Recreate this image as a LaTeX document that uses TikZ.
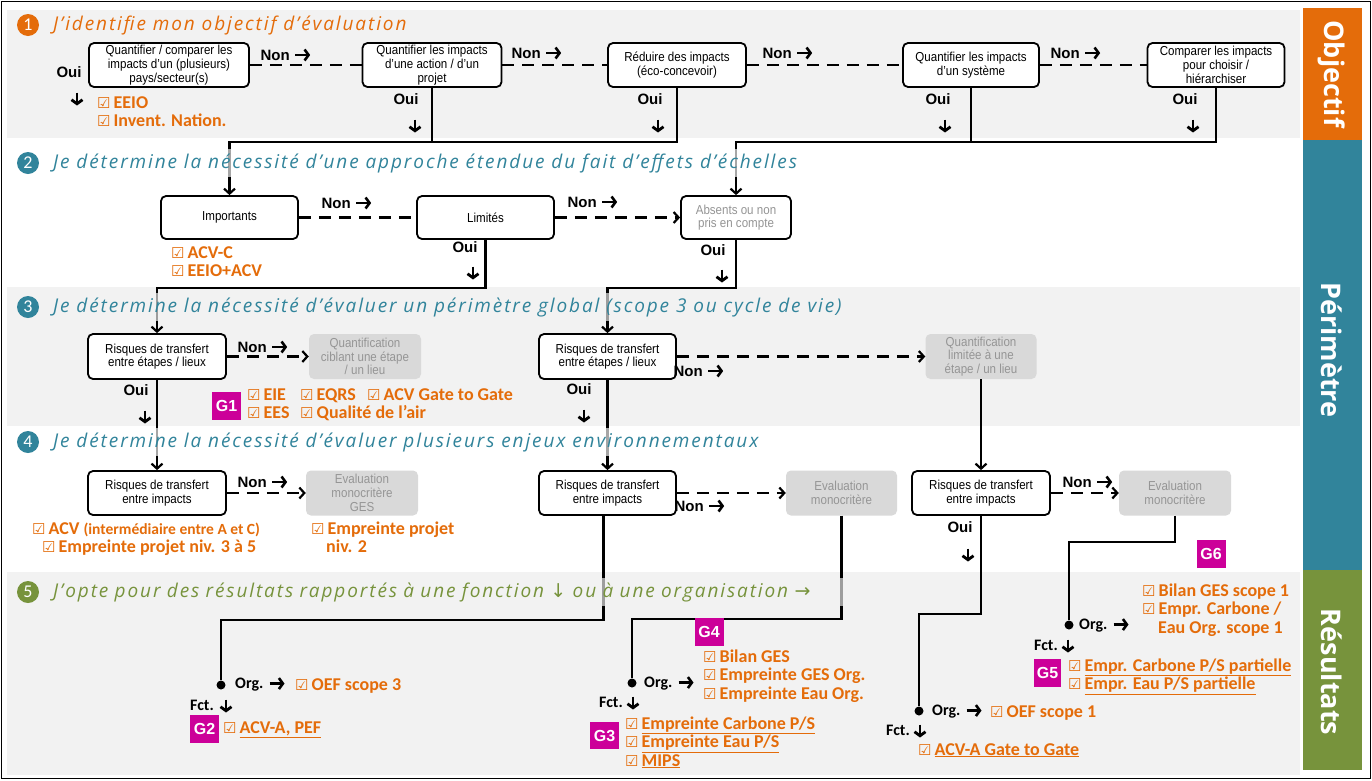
\documentclass[tikz,border=0pt]{standalone}
\usepackage{fontspec}
\setmainfont{Liberation Sans}
\newfontfamily\boxfont[FakeStretch=0.89]{Liberation Sans}
\newfontfamily\calfont{Carlito}
\newfontfamily\dejafont{DejaVu Sans}
\newfontfamily\handfont[LetterSpace=10]{Open Sans}
\newfontfamily\barfont{Open Sans}
\usetikzlibrary{arrows.meta,positioning}
\definecolor{orangeC}{HTML}{E46C0A}
\definecolor{tealC}{HTML}{31849B}
\definecolor{greenC}{HTML}{77933C}
\definecolor{magC}{HTML}{CC0099}
\definecolor{secbg}{HTML}{F2F2F2}
\definecolor{boxgray}{HTML}{D9D9D9}
\definecolor{txtgray}{HTML}{959595}
\newcommand{\ck}{{\dejafont\fontsize{15}{15}\selectfont ☑}\hspace{3pt}}
\newcommand{\rarr}{\tikz[baseline=-5pt]\draw[line width=2.6pt,-{Straight Barb[length=4pt,width=11pt]}] (0pt,0pt) -- (15pt,0pt);}
\newcommand{\dnarr}{\tikz[baseline=-5pt]\draw[line width=2.8pt,-{Straight Barb[length=4pt,width=11pt]}] (0pt,6pt) -- (0pt,-7pt);}

\begin{document}
\begin{tikzpicture}[x=1pt, y=-1pt,
    decision/.style={draw, line width=1.8pt, rounded corners=5pt, fill=white,
      minimum width=137pt, minimum height=44pt, inner sep=1pt, align=center,
      font=\boxfont\fontsize{13}{13.7}\selectfont},
    outcome/.style={fill=boxgray, text=txtgray, rounded corners=5pt,
      minimum width=112pt, minimum height=45pt, inner sep=1pt, align=center,
      font=\boxfont\fontsize{13}{13.7}\selectfont},
    conn/.style={line width=2.2pt},
    nonline/.style={line width=2.2pt, dash pattern=on 12pt off 8pt},
    arr/.style={-{Straight Barb[length=5pt,width=11pt]}},
    lbl/.style={font=\bfseries\fontsize{15}{15}\selectfont, inner sep=0pt},
    orgfct/.style={font=\calfont\bfseries\fontsize{16}{16}\selectfont, inner sep=0pt},
    liste/.style={text=orangeC, align=left, inner sep=0pt, anchor=base west,
      font=\calfont\bfseries\fontsize{18}{18.5}\selectfont},
    gtag/.style={fill=magC, text=white, minimum width=29pt, minimum height=28pt,
      inner sep=0pt, font=\bfseries\fontsize{16}{16}\selectfont},
    jdot/.style={circle, fill, minimum size=9pt, inner sep=0pt},
    titre/.style={anchor=west, fill opacity=0.65, text opacity=1, inner xsep=18pt,
      inner ysep=4pt, font=\handfont\itshape\fontsize{19}{19}\selectfont},
    num/.style={circle, minimum size=22pt, inner sep=0pt, text=white,
      font=\calfont\fontsize{18}{18}\selectfont},
    bartxt/.style={rotate=-90, text=white, font=\barfont\bfseries\fontsize{27}{27}\selectfont},
  ]
  \useasboundingbox (0,0) rectangle (1372,780);
  % fond et bandeaux
  \fill[white] (0,0) rectangle (1372,780);
  \fill[secbg] (7,10) rectangle (1300,138);
  \fill[secbg] (7,287) rectangle (1300,426);
  \fill[secbg] (7,572) rectangle (1300,775);
  \draw[line width=1.6pt] (1.5,1.5) rectangle (1370.5,778.5);
  \fill[orangeC] (1303,8) rectangle (1362,140);
  \fill[tealC] (1303,140) rectangle (1362,570);
  \fill[greenC] (1303,570) rectangle (1362,770);
  \node[bartxt] (bobj) at (1332,74) {Objectif};
  \node[bartxt] (bper) at (1332,350) {Périmètre};
  \node[bartxt] (bres) at (1332,672) {Résultats};

  % etape 1
  \node[decision, minimum width=160pt] (q1) at (169,65) {Quantifier / comparer les\\impacts d’un (plusieurs)\\pays/secteur(s)};
  \node[decision, minimum width=139pt] (q2) at (432,65) {Quantifier les impacts\\d’une action / d’un\\projet};
  \node[decision, minimum width=138pt] (q3) at (677,65) {Réduire des impacts\\(éco-concevoir)};
  \node[decision, minimum width=136pt] (q4) at (971,65) {Quantifier les impacts\\d’un système};
  \node[decision] (q5) at (1216,65) {Comparer les impacts\\pour choisir /\\hiérarchiser};
  \draw[nonline] (q1.east) -- (q2.west);
  \draw[nonline] (q2.east) -- (q3.west);
  \draw[nonline] (q3.east) -- (q4.west);
  \draw[nonline] (q4.east) -- (q5.west);

  % etape 2
  \node[decision, minimum height=43pt] (imp) at (229.5,217.5) {Importants};
  \node[decision, minimum height=43pt] (lim) at (485.5,217.5) {Limités};
  \node[decision, minimum height=43pt, minimum width=110pt, text=txtgray] (abs) at (736,217.5) {Absents ou non\\pris en compte};
  \draw[conn] (q2.south) -- ++(0,54);
  \draw[conn,arr] (q3.south) -- ++(0,54) -| (imp.north);
  \draw[conn] (q4.south) -- ++(0,54);
  \draw[conn,arr] (q5.south) -- ++(0,54) -| (abs.north);
  \draw[nonline] (imp.east) -- (lim.west);
  \draw[nonline,arr] (lim.east) -- (abs.west);

  % etape 3
  \node[decision, minimum height=45pt, minimum width=138pt] (r3a) at (157,356.5) {Risques de transfert\\entre étapes / lieux};
  \node[outcome] (g3a) at (365,356.5) {Quantification\\ciblant une étape\\/ un lieu};
  \node[decision, minimum height=45pt] (r3b) at (607.5,356.5) {Risques de transfert\\entre étapes / lieux};
  \node[outcome, minimum width=111pt] (g3b) at (981,356.5) {Quantification\\limitée à une\\étape / un lieu};
  \draw[conn,arr] (lim.south) -- ++(0,48) -| (r3a.north);
  \draw[conn,arr] (abs.south) -- ++(0,48) -| (r3b.north);
  \draw[nonline,arr] (r3a.east) -- (g3a.west);
  \draw[nonline,arr] (r3b.east) -- (g3b.west);

  % etape 4
  \node[decision, minimum width=138pt] (r4a) at (157,493) {Risques de transfert\\entre impacts};
  \node[outcome] (g4a) at (362,493) {Evaluation\\monocritère\\GES};
  \node[decision] (r4b) at (607.5,493) {Risques de transfert\\entre impacts};
  \node[outcome, minimum width=111pt] (g4b) at (841.5,493) {Evaluation\\monocritère};
  \node[decision, minimum width=138pt] (r4c) at (981,493) {Risques de transfert\\entre impacts};
  \node[outcome] (g4c) at (1175,493) {Evaluation\\monocritère};
  \draw[conn,arr] (r3a.south) -- (r4a.north);
  \draw[conn,arr] (r3b.south) -- (r4b.north);
  \draw[conn,arr] (g3b.south) -- (r4c.north);
  \draw[nonline,arr] (r4a.east) -- (g4a.west);
  \draw[nonline,arr] (r4b.east) -- (g4b.west);
  \draw[nonline,arr] (r4c.east) -- (g4c.west);

  % etape 5
  \node[jdot] (d2) at (221,685) {};
  \node[jdot] (d3) at (632,683) {};
  \node[jdot] (d4) at (919,711) {};
  \node[jdot] (d5) at (1069,625) {};
  \draw[conn] ([xshift=-4pt]r4b.south) -- ++(0,104) -| (d2);
  \draw[conn] (g4b.south) -- ++(0,103) -| (d3);
  \draw[conn] (r4c.south) -- ++(0,98) -| (d4);
  \draw[conn] (g4c.south) -- ++(0,26) -| (d5);

  % titres
  \node[titre, text=orangeC, fill=secbg] (t1) at (35,25) {J’identifie mon objectif d’évaluation};
  \node[titre, text=tealC, fill=white] (t2) at (35,163) {Je détermine la nécessité d’une approche étendue du fait d’effets d’échelles};
  \node[titre, text=tealC, fill=secbg] (t3) at (35,307) {Je détermine la nécessité d’évaluer un périmètre global (scope 3 ou cycle de vie)};
  \node[titre, text=tealC, fill=white] (t4) at (35,442) {Je détermine la nécessité d’évaluer plusieurs enjeux environnementaux};
  \node[titre, text=greenC, fill=secbg, text width=800pt, align=left] (t5) at (35,592) {J’opte pour des résultats rapportés à une fonction {\dejafont ↓} ou à une organisation {\dejafont →}};
  \node[num, fill=orangeC] (n1) at (28,25) {1};
  \node[num, fill=tealC] (n2) at (28,163) {2};
  \node[num, fill=tealC] (n3) at (28,307) {3};
  \node[num, fill=tealC] (n4) at (28,442) {4};
  \node[num, fill=greenC] (n5) at (28,592) {5};

  % Non / Oui
  \node[lbl] (non1) at (286,55) {Non \rarr};
  \node[lbl] (non2) at (537,53) {Non \rarr};
  \node[lbl] (non3) at (788,53) {Non \rarr};
  \node[lbl] (non4) at (1076,53) {Non \rarr};
  \node[lbl] (non5) at (347,203) {Non \rarr};
  \node[lbl] (non6) at (593,202) {Non \rarr};
  \node[lbl] (non7) at (263,347) {Non \rarr};
  \node[lbl] (non8) at (699,371) {Non \rarr};
  \node[lbl] (non9) at (263,482) {Non \rarr};
  \node[lbl] (non10) at (700,506) {Non \rarr};
  \node[lbl] (non11) at (1088,482) {Non \rarr};
  \node[lbl] (oui1) at (69,72) {Oui};
  \node[lbl] (dn1) at (77,99) {\dnarr};
  \node[lbl] (oui2) at (406,99) {Oui};
  \node[lbl] (dn2) at (415,126) {\dnarr};
  \node[lbl] (oui3) at (650,99) {Oui};
  \node[lbl] (dn3) at (658,126) {\dnarr};
  \node[lbl] (oui4) at (938,99) {Oui};
  \node[lbl] (dn4) at (945,126) {\dnarr};
  \node[lbl] (oui5) at (1185,99) {Oui};
  \node[lbl] (dn5) at (1193,126) {\dnarr};
  \node[lbl] (oui6) at (465,247) {Oui};
  \node[lbl] (dn6) at (473,273) {\dnarr};
  \node[lbl] (oui7) at (713,250) {Oui};
  \node[lbl] (dn7) at (722,276) {\dnarr};
  \node[lbl] (oui8) at (136,390) {Oui};
  \node[lbl] (dn8) at (145,417) {\dnarr};
  \node[lbl] (oui9) at (579,389) {Oui};
  \node[lbl] (dn9) at (584,416) {\dnarr};
  \node[lbl] (oui10) at (960,527) {Oui};
  \node[lbl] (dn10) at (968,555) {\dnarr};

  % methodes (ancre = ligne de base de la derniere ligne)
  \node[liste] (m1) at (97,126.5) {\ck EEIO\\\ck Invent. Nation.};
  \node[liste] (m2) at (171,276.5) {\ck ACV-C\\\ck EEIO+ACV};
  \node[gtag] (g1) at (226.5,406) {G1};
  \node[liste] (m3) at (247,418.5) {\makebox[53pt][l]{\ck EIE}\makebox[67pt][l]{\ck EQRS}\ck ACV Gate to Gate\\\makebox[53pt][l]{\ck EES}\ck Qualité de l’air};
  \node[liste] (m4) at (32,552.5) {\ck ACV {\fontsize{15.5}{15}\selectfont (intermédiaire entre A et C)}\\\hspace*{10pt}\ck Empreinte projet niv. 3 à 5};
  \node[liste] (m5) at (311,552.5) {\ck Empreinte projet\\\hspace*{15pt}niv. 2};

  % branche G2
  \node[orgfct, anchor=west] (o2) at (235,684) {Org. \rarr};
  \node[liste] (m6) at (295,690) {\ck OEF scope 3};
  \node[orgfct, anchor=east] (f2) at (214,705) {Fct.};
  \node[orgfct] (fa2) at (226,706) {\dnarr};
  \node[gtag] (g2) at (204.5,728.5) {G2};
  \node[liste] (m7) at (223,733) {\ck \underline{ACV-A, PEF}};

  % branche G3 / G4
  \node[orgfct, anchor=west] (o3) at (644,683) {Org. \rarr};
  \node[gtag] (g4) at (709,631.5) {G4};
  \node[liste] (m8) at (703,699) {\ck Bilan GES\\\ck Empreinte GES Org.\\\ck Empreinte Eau Org.};
  \node[orgfct, anchor=east] (f3) at (623,702) {Fct.};
  \node[orgfct] (fa3) at (633,703) {\dnarr};
  \node[gtag, minimum height=27pt] (g3) at (604.5,735.5) {G3};
  \node[liste] (m9) at (625,766) {\ck \underline{Empreinte Carbone P/S}\\\ck \underline{Empreinte Eau P/S}\\\ck \underline{MIPS}};

  % branche gate to gate
  \node[orgfct, anchor=west] (o4) at (932,711) {Org. \rarr};
  \node[liste] (m10) at (990,717) {\ck OEF scope 1};
  \node[orgfct, anchor=east] (f4) at (910,730) {Fct.};
  \node[orgfct] (fa4) at (920,731) {\dnarr};
  \node[liste] (m11) at (918,755) {\ck \underline{ACV-A Gate to Gate}};

  % branche G5 / G6
  \node[gtag] (g6) at (1211,553.5) {G6};
  \node[orgfct, anchor=west] (o5) at (1079,625) {Org. \rarr};
  \node[liste] (m12) at (1142,633) {\ck Bilan GES scope 1\\\ck Empr. Carbone /\\\hspace*{16pt}Eau Org. scope 1};
  \node[orgfct, anchor=east] (f5) at (1058,645) {Fct.};
  \node[orgfct] (fa5) at (1068,646) {\dnarr};
  \node[gtag, minimum width=27pt] (g5) at (1047.5,672.5) {G5};
  \node[liste] (m13) at (1068,689.5) {\ck \underline{Empr. Carbone P/S partielle}\\\ck \underline{Empr. Eau P/S partielle}};
\end{tikzpicture}
\end{document}
